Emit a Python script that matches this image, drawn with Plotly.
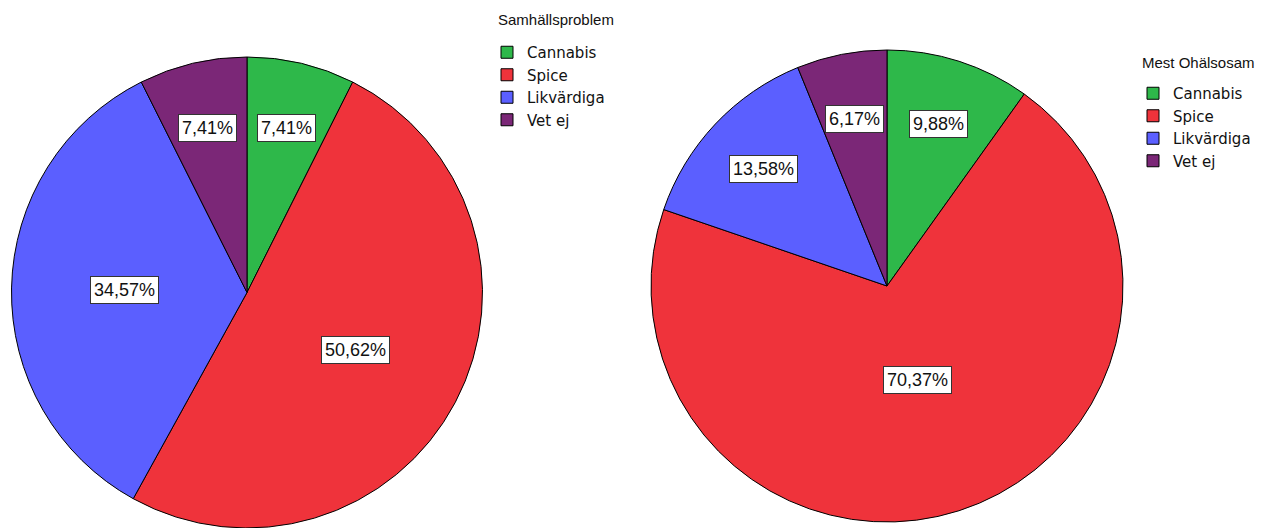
import math
import plotly.graph_objects as go

categories = ["Cannabis", "Spice", "Likvärdiga", "Vet ej"]
samhall_values = [7.41, 50.62, 34.57, 7.41]
ohalsosam_values = [9.88, 70.37, 13.58, 6.17]
colors = ["#2EB84A", "#EF333B", "#5B5FFF", "#7B2777"]
titles = ["Samhällsproblem", "Mest Ohälsosam"]

W, H = 1270, 528
left_dom = dict(x=[11 / W, 483 / W], y=[0, 471 / H])
right_dom = dict(x=[651 / W, 1123 / W], y=[6 / H, 478 / H])

# second pie gets invisible zero-width suffix so its legend entries are not merged with the first pie's
categories_right = [c + "\u200b" for c in categories]

fig = go.Figure()
fig.add_trace(go.Pie(
    labels=categories, values=samhall_values, sort=False, direction="clockwise",
    rotation=0, textinfo="none", hoverinfo="label+percent",
    marker=dict(colors=colors, line=dict(color="#000000", width=1)),
    domain=left_dom, legend="legend",
))
fig.add_trace(go.Pie(
    labels=categories_right, values=ohalsosam_values, sort=False, direction="clockwise",
    rotation=0, textinfo="none", hoverinfo="label+percent",
    marker=dict(colors=colors, line=dict(color="#000000", width=1)),
    domain=right_dom, legend="legend2",
))


def label_annotations(values, dom):
    cx = (dom["x"][0] + dom["x"][1]) / 2
    cy = (dom["y"][0] + dom["y"][1]) / 2
    r_px = min((dom["x"][1] - dom["x"][0]) * W, (dom["y"][1] - dom["y"][0]) * H) / 2
    total = sum(values)
    anns = []
    cum = 0.0
    for v in values:
        share = v / total
        mid = (cum + share / 2) * 2 * math.pi
        cum += share
        if share < 0.2:
            frac = 0.72
        elif share < 0.6:
            frac = 0.52
        else:
            frac = 0.42
        dx = math.sin(mid) * frac * r_px
        dy = math.cos(mid) * frac * r_px
        anns.append(dict(
            x=cx + dx / W, y=cy + dy / H, xref="paper", yref="paper",
            xanchor="center", yanchor="middle",
            text=f"{v:.2f}%".replace(".", ","), showarrow=False,
            font=dict(family="Liberation Sans, Arial, sans-serif", size=18, color="#111111"),
            bgcolor="#FFFFFF", bordercolor="#333333", borderwidth=1, borderpad=3,
        ))
    return anns


annotations = label_annotations(samhall_values, left_dom) + label_annotations(ohalsosam_values, right_dom)

title_font = dict(family="Liberation Sans, Arial, sans-serif", size=15, color="#111111")
annotations.append(dict(x=496 / W, y=1 - 20 / H, xref="paper", yref="paper", xanchor="left",
                        yanchor="middle", text=titles[0], showarrow=False, font=title_font))
annotations.append(dict(x=1140 / W, y=1 - 62 / H, xref="paper", yref="paper", xanchor="left",
                        yanchor="middle", text=titles[1], showarrow=False, font=title_font))

legend_common = dict(
    font=dict(family="DejaVu Sans, sans-serif", size=15, color="#111111"),
    bgcolor="rgba(0,0,0,0)", tracegroupgap=0, itemclick=False, itemdoubleclick=False,
    xanchor="left", yanchor="top", traceorder="normal", itemwidth=30,
)

fig.update_layout(
    width=W, height=H,
    margin=dict(l=0, r=0, t=0, b=0),
    paper_bgcolor="#FFFFFF", plot_bgcolor="#FFFFFF",
    annotations=annotations,
    legend=dict(x=487 / W, y=1 - 36 / H, **legend_common),
    legend2=dict(x=1133 / W, y=1 - 77 / H, **legend_common),
)

fig.write_html("out.html", config={"displayModeBar": False},
               post_script="document.body.style.margin='0px';")
